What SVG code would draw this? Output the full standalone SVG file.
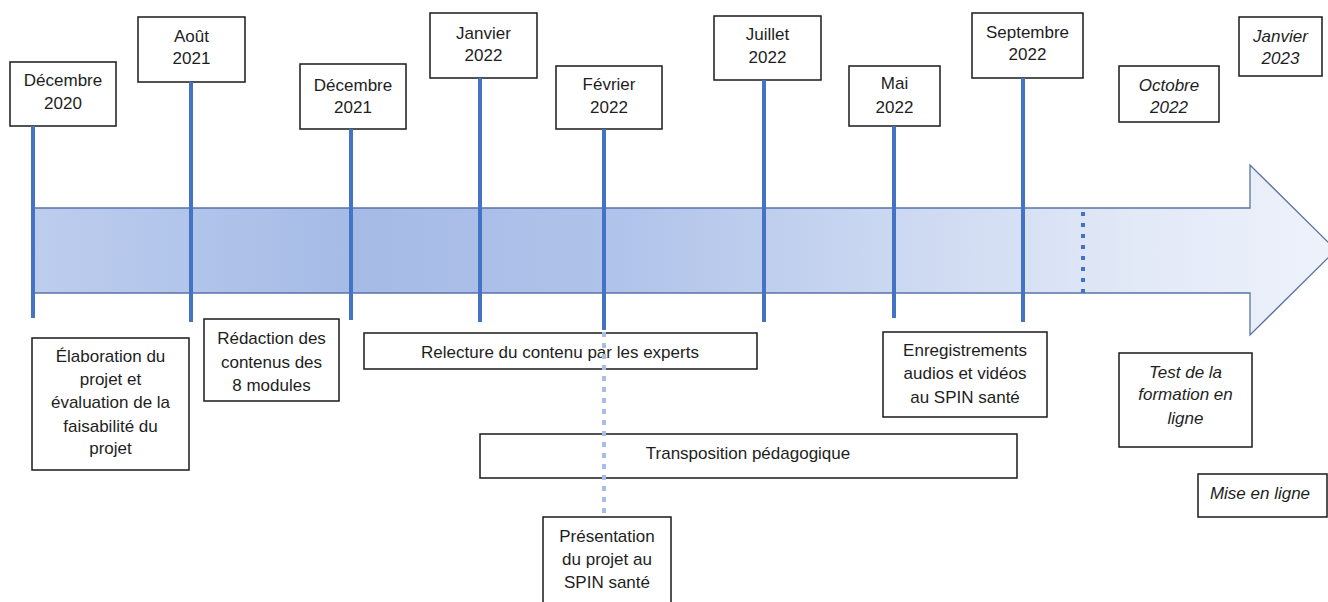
<svg xmlns="http://www.w3.org/2000/svg" width="1328" height="602" viewBox="0 0 1328 602">
<style>
text{font-family:"Liberation Sans",Arial,sans-serif;font-size:17px;fill:#1e1e1e;text-anchor:middle;dominant-baseline:central}
.it{font-style:italic}
.box{fill:#fff;stroke:#1a1a1a;stroke-width:1.5}
.tick{stroke:#4472c4;stroke-width:4;fill:none}
.dotl{stroke:#a9bde6;stroke-width:4;stroke-dasharray:5 6;fill:none}
.dotd{stroke:#4472c4;stroke-width:4;stroke-dasharray:4 7;fill:none}
</style>
<defs>
<linearGradient id="band" gradientUnits="userSpaceOnUse" x1="33" y1="0" x2="1336" y2="0">
<stop offset="0" stop-color="#bdcdee"/>
<stop offset="0.25" stop-color="#a5bbe6"/>
<stop offset="0.45" stop-color="#b0c3ea"/>
<stop offset="0.65" stop-color="#cad7f1"/>
<stop offset="0.85" stop-color="#e2e9f7"/>
<stop offset="1" stop-color="#eef2fb"/>
</linearGradient>
</defs>
<rect width="1328" height="602" fill="#fff"/>
<g id="timeline">
<polygon points="33,208 1250,208 1250,165 1336,250 1250,335 1250,293 33,293" fill="url(#band)" stroke="#5a73a6" stroke-width="1.3"/>
</g>
<g id="n-dec2020"><rect class="box" x="10" y="62" width="106" height="64"/><text x="63" y="80">Décembre</text><text x="63" y="103">2020</text></g>
<g id="n-aout2021"><rect class="box" x="138" y="17" width="107" height="65"/><text x="191.5" y="36">Août</text><text x="191.5" y="58">2021</text></g>
<g id="n-dec2021"><rect class="box" x="300" y="64" width="106" height="65"/><text x="353" y="85">Décembre</text><text x="353" y="107">2021</text></g>
<g id="n-jan2022"><rect class="box" x="430" y="13" width="107" height="65"/><text x="483.5" y="33">Janvier</text><text x="483.5" y="55">2022</text></g>
<g id="n-fev2022"><rect class="box" x="556" y="66" width="106" height="63"/><text x="609" y="84">Février</text><text x="609" y="107">2022</text></g>
<g id="n-juil2022"><rect class="box" x="714" y="16" width="107" height="64"/><text x="767.5" y="34">Juillet</text><text x="767.5" y="57">2022</text></g>
<g id="n-mai2022"><rect class="box" x="849" y="66" width="91" height="60"/><text x="894.5" y="83">Mai</text><text x="894.5" y="107">2022</text></g>
<g id="n-sept2022"><rect class="box" x="972" y="13" width="111" height="65"/><text x="1027.5" y="32">Septembre</text><text x="1027.5" y="54">2022</text></g>
<g id="n-oct2022"><rect class="box" x="1119" y="66" width="100" height="56"/><text class="it" x="1169" y="85">Octobre</text><text class="it" x="1169" y="107">2022</text></g>
<g id="n-jan2023"><rect class="box" x="1239" y="17" width="83" height="59"/><text class="it" x="1280.5" y="36">Janvier</text><text class="it" x="1280.5" y="58">2023</text></g>
<g id="n-elaboration"><rect class="box" x="32" y="338" width="157" height="132"/><text x="110.5" y="356">Élaboration du</text><text x="110.5" y="379">projet et</text><text x="110.5" y="402">évaluation de la</text><text x="110.5" y="426">faisabilité du</text><text x="110.5" y="448">projet</text></g>
<g id="n-redaction"><rect class="box" x="204" y="319" width="135" height="82"/><text x="271.5" y="338">Rédaction des</text><text x="271.5" y="362">contenus des</text><text x="271.5" y="385">8 modules</text></g>
<g id="n-relecture"><rect class="box" x="364" y="333" width="393" height="36"/><text x="560" y="352">Relecture du contenu par les experts</text></g>
<g id="n-transposition"><rect class="box" x="480" y="434" width="537" height="44"/><text x="748" y="453">Transposition pédagogique</text></g>
<g id="n-presentation"><rect class="box" x="543" y="517" width="128" height="90"/><text x="607" y="536">Présentation</text><text x="607" y="559">du projet au</text><text x="607" y="582">SPIN santé</text></g>
<g id="n-enregistrements"><rect class="box" x="883" y="332" width="164" height="85"/><text x="965" y="350">Enregistrements</text><text x="965" y="373">audios et vidéos</text><text x="965" y="397">au SPIN santé</text></g>
<g id="n-test"><rect class="box" x="1119" y="353" width="133" height="94"/><text class="it" x="1185.5" y="372">Test de la</text><text class="it" x="1185.5" y="394">formation en</text><text class="it" x="1185.5" y="418">ligne</text></g>
<g id="n-mise"><rect class="box" x="1198" y="474" width="129" height="43"/><text class="it" x="1260" y="493">Mise en ligne</text></g>
<g id="connectors">
<line class="tick" x1="33" y1="126" x2="33" y2="318"/>
<line class="tick" x1="191" y1="82" x2="191" y2="322"/>
<line class="tick" x1="351" y1="129" x2="351" y2="320"/>
<line class="tick" x1="480" y1="78" x2="480" y2="322"/>
<line class="tick" x1="604" y1="129" x2="604" y2="330"/>
<line class="dotl" x1="604" y1="332" x2="604" y2="513"/>
<line class="tick" x1="764" y1="80" x2="764" y2="322"/>
<line class="tick" x1="894" y1="126" x2="894" y2="318"/>
<line class="tick" x1="1023" y1="78" x2="1023" y2="322"/>
<line class="dotd" x1="1083" y1="212" x2="1083" y2="293"/>
</g>
</svg>
